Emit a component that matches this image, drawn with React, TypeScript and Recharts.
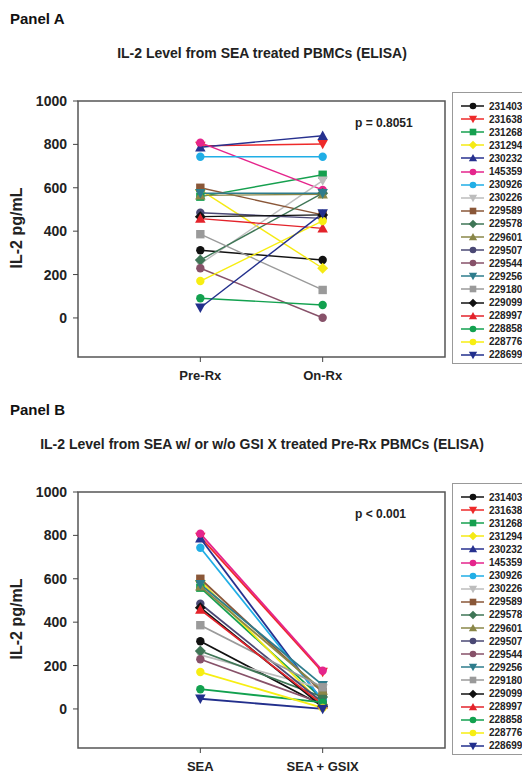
import { LineChart, Line, XAxis, YAxis, ReferenceArea } from 'recharts';

const donors = [
  '231403', '231638', '231268', '231294', '230232', '145359', '230926', '230226', '229589', '229578',
  '229601', '229507', '229544', '229256', '229180', '229099', '228997', '228858', '228776', '228699',
];
const colors = [
  '#111111', '#ee2a2a', '#16a04f', '#f5ea14', '#27318f', '#e5258c', '#20aee6', '#bdbdbd', '#8a5738', '#3f7656',
  '#8a8748', '#4a4874', '#875169', '#2e7c8c', '#9a9a9a', '#111111', '#e3232b', '#12a14f', '#f7ee12', '#222f8c',
];
const shapes = [
  'circle', 'down', 'square', 'diamond', 'up', 'circle', 'circle', 'down', 'square', 'diamond',
  'up', 'circle', 'circle', 'down', 'square', 'diamond', 'up', 'circle', 'circle', 'down',
];

const preRx = [312, 793, 559, 590, 787, 808, 743, 249, 600, 267, 565, 485, 229, 575, 386, 467, 458, 91, 170, 47];
const onRx = [267, 802, 660, 229, 840, 590, 743, 633, 475, 575, 570, 459, 1, 575, 129, 475, 413, 60, 447, 482];
const withGsix = [15, 170, 45, 20, 35, 176, 40, 95, 77, 55, 85, 30, 25, 110, 100, 10, 20, 30, 5, 0];

const yTicks = [0, 200, 400, 600, 800, 1000];
const FONT = 'Arial, "Liberation Sans", sans-serif';
const TEXT = '#222';

function Marker({ cx, cy, shape, color, r }: { cx: number; cy: number; shape: string; color: string; r: number }) {
  if (shape === 'square') {
    return <rect x={cx - r} y={cy - r} width={r * 2} height={r * 2} fill={color} />;
  }
  if (shape === 'diamond') {
    const d = r * 1.3;
    return <polygon points={`${cx},${cy - d} ${cx + d},${cy} ${cx},${cy + d} ${cx - d},${cy}`} fill={color} />;
  }
  if (shape === 'up') {
    const d = r * 1.25;
    return <polygon points={`${cx},${cy - d} ${cx + d},${cy + d * 0.8} ${cx - d},${cy + d * 0.8}`} fill={color} />;
  }
  if (shape === 'down') {
    const d = r * 1.25;
    return <polygon points={`${cx},${cy + d} ${cx + d},${cy - d * 0.8} ${cx - d},${cy - d * 0.8}`} fill={color} />;
  }
  return <circle cx={cx} cy={cy} r={r} fill={color} />;
}

// legend box is cut off by the right edge of the page, like the original figure
function DonorLegend() {
  return (
    <div
      style={{
        position: 'absolute',
        left: 452,
        top: 92,
        border: '1px solid #999',
        width: 90,
        height: 272,
        background: '#fff',
        fontFamily: FONT,
        boxSizing: 'border-box',
      }}
    >
      {donors.map((d, i) => (
        <div key={d} style={{ position: 'absolute', left: 0, top: 13 + i * 13.1 - 7, height: 14, display: 'flex', alignItems: 'center' }}>
          <svg width={36} height={14} style={{ display: 'block' }}>
            <line x1={8} y1={7} x2={31} y2={7} stroke={colors[i]} strokeWidth={1.5} />
            <Marker cx={20} cy={7} shape={shapes[i]} color={colors[i]} r={3.3} />
          </svg>
          <span style={{ fontSize: 10, fontWeight: 'bold', color: TEXT }}>{d}</span>
        </div>
      ))}
    </div>
  );
}

function Panel({
  top,
  label,
  title,
  pText,
  after,
  xLabels,
  lineWidth,
}: {
  top: number;
  label: string;
  title: string;
  pText: string;
  after: number[];
  xLabels: string[];
  lineWidth: number;
}) {
  return (
    <div style={{ position: 'absolute', left: 0, top, width: 522, height: 391, fontFamily: FONT }}>
      <div style={{ position: 'absolute', left: 10, top: 10, fontSize: 15, fontWeight: 'bold', color: '#111' }}>{label}</div>
      <div style={{ position: 'absolute', left: 0, width: 524, top: 45, textAlign: 'center', fontSize: 14, fontWeight: 'bold', color: TEXT }}>
        {title}
      </div>
      <div
        style={{
          position: 'absolute',
          left: 17,
          top: 228,
          transform: 'translate(-50%, -50%) rotate(-90deg)',
          whiteSpace: 'nowrap',
          fontSize: 16,
          fontWeight: 'bold',
          color: TEXT,
        }}
      >
        IL-2 pg/mL
      </div>
      <LineChart width={522} height={391} margin={{ top: 101, right: 77, bottom: 0, left: 0 }}>
        <XAxis
          type="number"
          dataKey="x"
          domain={[0, 3]}
          ticks={[1, 2]}
          allowDataOverflow
          height={34}
          axisLine={false}
          tickLine={{ stroke: '#444' }}
          tickSize={5}
          tickMargin={9}
          tickFormatter={(v: number) => xLabels[v - 1]}
          tick={{ fill: TEXT, fontSize: 13, fontWeight: 'bold', fontFamily: FONT }}
        />
        <YAxis
          type="number"
          dataKey="y"
          domain={[-180, 1000]}
          ticks={yTicks}
          allowDataOverflow
          width={78}
          axisLine={false}
          tickLine={{ stroke: '#444' }}
          tickSize={5}
          tickMargin={6}
          tick={{ fill: TEXT, fontSize: 14, fontWeight: 'bold', fontFamily: FONT }}
        />
        <ReferenceArea x1={0} x2={3} y1={-180} y2={1000} fill="none" stroke="#555" strokeWidth={1.5} ifOverflow="visible" />
        {donors.map((d, i) => (
          <Line
            key={d}
            name={d}
            data={[
              { x: 1, y: preRx[i] },
              { x: 2, y: after[i] },
            ]}
            dataKey="y"
            stroke={colors[i]}
            strokeWidth={lineWidth}
            isAnimationActive={false}
            dot={(p: { cx: number; cy: number; index: number }) => (
              <Marker key={`${d}-${p.index}`} cx={p.cx} cy={p.cy} shape={shapes[i]} color={colors[i]} r={4.2} />
            )}
            activeDot={false}
          />
        ))}
      </LineChart>
      <DonorLegend />
      <div style={{ position: 'absolute', left: 355, top: 116, fontSize: 12, fontWeight: 'bold', color: TEXT }}>{pText}</div>
    </div>
  );
}

export default function App() {
  return (
    <div style={{ position: 'absolute', left: 0, top: 0, width: 522, height: 777, overflow: 'hidden', background: '#fff' }}>
      <Panel
        top={0}
        label="Panel A"
        title="IL-2 Level from SEA treated PBMCs (ELISA)"
        pText="p = 0.8051"
        after={onRx}
        xLabels={['Pre-Rx', 'On-Rx']}
        lineWidth={1.4}
      />
      <Panel
        top={391}
        label="Panel B"
        title="IL-2 Level from SEA w/ or w/o GSI X treated Pre-Rx PBMCs (ELISA)"
        pText="p < 0.001"
        after={withGsix}
        xLabels={['SEA', 'SEA + GSIX']}
        lineWidth={1.8}
      />
    </div>
  );
}
